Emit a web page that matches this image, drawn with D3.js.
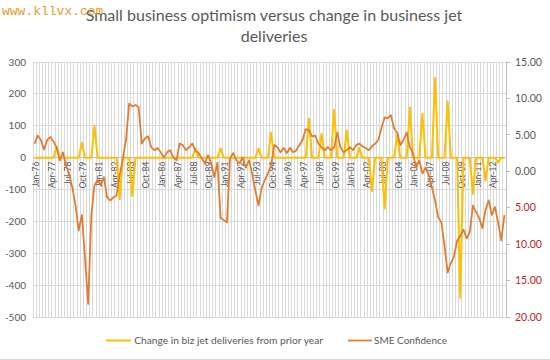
<!DOCTYPE html>
<html><head><meta charset="utf-8">
<script src="https://cdn.jsdelivr.net/npm/d3@7"></script>
<style>body{margin:0;background:#fff}svg{display:block}</style>
</head><body>
<svg id="chart" width="550" height="360"></svg>
<script>
// ---- DATA ----
const titleLines = ["Small business optimism versus change in business jet", "deliveries"];
const seriesNames = ["Change in biz jet deliveries from prior year", "SME Confidence"];
const firstQuarter = new Date(1976, 0, 1);
const quarterCount = 150;
const leftTicks = [300, 200, 100, 0, -100, -200, -300, -400, -500];
const rightTicks = [15, 10, 5, 0, -5, -10, -15, -20];
// change in biz jet deliveries from prior year (left axis), one value per quarter
const jetChange = [
  0,0,0,0,0,0,0,35,0,0,
  0,0,0,0,0,47,0,0,0,100,
  0,0,0,0,0,0,0,-130,0,0,
  0,-120,0,0,0,0,0,0,0,0,
  0,0,0,0,0,0,0,0,0,0,
  0,28,0,0,0,0,0,0,0,28,
  0,0,0,0,0,0,0,0,0,0,
  0,28,0,0,0,78,0,0,0,0,
  0,0,0,0,0,0,0,122,0,0,
  0,75,0,0,0,150,0,0,0,85,
  0,0,0,30,0,0,0,-105,0,0,
  0,-160,0,0,0,72,0,0,0,157,
  0,0,0,138,0,0,0,250,0,0,
  0,176,0,0,0,-440,0,0,0,-113,
  0,0,0,-72,0,0,0,-15,0,0
];
// SME confidence (right axis)
const smeConfidence = [
  3.8,4.9,4.3,3.0,4.3,4.7,4.1,3.2,1.5,2.6,
  0.8,-0.5,-2.3,-4.7,-8.1,-6.0,-11.9,-18.2,-6.0,-1.9,
  -1.2,-1.9,-0.8,-3.6,-4.0,-3.6,-3.3,-0.5,1.8,4.3,
  9.3,8.9,9.1,8.8,3.8,4.5,4.8,3.3,2.9,3.2,
  2.6,1.9,2.6,2.9,1.9,1.5,3.8,3.6,2.9,3.3,
  3.8,2.9,2.5,1.8,1.1,2.2,1.1,-0.8,1.2,-6.4,
  -6.7,-7.0,1.8,2.5,1.5,1.1,1.9,0.5,1.5,-0.3,
  -2.6,-4.7,-2.3,-1.2,-0.3,0.8,3.6,3.3,2.6,3.2,
  2.5,3.2,2.6,2.9,3.6,4.3,5.8,5.6,4.8,4.9,
  3.8,3.3,2.9,3.3,2.9,3.3,5.3,3.3,2.6,2.9,
  3.3,2.9,3.6,3.8,3.4,3.2,2.9,3.4,3.8,4.3,
  5.9,7.4,7.3,7.7,5.9,5.3,3.6,4.3,5.3,3.3,
  2.5,0.5,1.5,-0.3,0.5,-0.5,-2.2,-4.0,-6.3,-7.0,
  -10.2,-13.9,-12.6,-11.7,-9.5,-8.9,-8.0,-9.2,-8.4,-4.7,
  -5.6,-6.4,-7.8,-5.3,-4.0,-6.0,-4.9,-7.0,-9.5,-6.0
];
const labelEvery = 5;

// ---- CHART ----
const svg = d3.select("#chart");
const FONT = "Lato, 'Open Sans', sans-serif";
const TXT = "#595959";
const GRID = "#d9d9d9";
const plot = {left: 33, right: 506, top: 62, bottom: 317};

const fmt = d3.timeFormat("%b-%y");
const categories = d3.range(quarterCount).map(i => fmt(d3.timeMonth.offset(firstQuarter, 3 * i)));

const x = d3.scaleBand().domain(d3.range(quarterCount)).range([plot.left, plot.right]).padding(0);
const xc = i => x(i) + x.bandwidth() / 2;
const yL = d3.scaleLinear().domain([-500, 300]).range([plot.bottom, plot.top]);
const yR = d3.scaleLinear().domain([-20, 15]).range([plot.bottom, plot.top]);

svg.append("rect").attr("width", 550).attr("height", 360).attr("fill", "#fff");

// vertical gridlines at category boundaries
const vg = svg.append("g");
d3.range(quarterCount + 1).forEach(k => {
  const xx = k < quarterCount ? x(k) : plot.right;
  vg.append("line").attr("x1", xx).attr("x2", xx).attr("y1", plot.top).attr("y2", plot.bottom)
    .attr("stroke", GRID).attr("stroke-width", 1).attr("shape-rendering", "crispEdges");
});
// horizontal gridlines
svg.append("g").selectAll("line").data(leftTicks).join("line")
  .attr("x1", plot.left).attr("x2", plot.right)
  .attr("y1", d => yL(d)).attr("y2", d => yL(d))
  .attr("stroke", GRID).attr("stroke-width", 1).attr("shape-rendering", "crispEdges");

// left axis labels
svg.append("g").selectAll("text").data(leftTicks).join("text")
  .attr("x", 26).attr("y", d => yL(d)).attr("dy", "0.35em")
  .attr("text-anchor", "end").attr("font-family", FONT).attr("font-size", 10).attr("fill", TXT)
  .text(d => d);

// right axis
const ra = svg.append("g");
ra.append("line").attr("x1", plot.right).attr("x2", plot.right).attr("y1", plot.top).attr("y2", plot.bottom)
  .attr("stroke", "#bfbfbf").attr("shape-rendering", "crispEdges");
ra.selectAll("line.t").data(rightTicks).join("line").attr("class", "t")
  .attr("x1", plot.right).attr("x2", plot.right + 4).attr("y1", d => yR(d)).attr("y2", d => yR(d))
  .attr("stroke", "#bfbfbf").attr("shape-rendering", "crispEdges");
ra.selectAll("text").data(rightTicks).join("text")
  .attr("x", 515).attr("y", d => yR(d)).attr("dy", "0.35em")
  .attr("font-family", FONT).attr("font-size", 10.5)
  .attr("fill", d => d < 0 ? "#b3262b" : TXT)
  .text(d => Math.abs(d).toFixed(2));

// category axis line at zero
svg.append("line").attr("x1", plot.left).attr("x2", plot.right).attr("y1", yL(0)).attr("y2", yL(0))
  .attr("stroke", "#bfbfbf").attr("shape-rendering", "crispEdges");

// category labels
svg.append("g").selectAll("text")
  .data(d3.range(quarterCount).filter(i => i % labelEvery === 0)).join("text")
  .attr("transform", i => `translate(${xc(i) + 1.5},${yL(0) + 4}) rotate(-90)`)
  .attr("dy", "0.35em").attr("text-anchor", "end")
  .attr("font-family", FONT).attr("font-size", 8.5).attr("fill", TXT)
  .text(i => categories[i]);

// lines
const jetLine = d3.line().x((d, i) => xc(i)).y(d => yL(d));
const smeLine = d3.line().x((d, i) => xc(i)).y(d => yR(d));
svg.append("path").datum(jetChange).attr("d", jetLine)
  .attr("fill", "none").attr("stroke", "#ffc000").attr("stroke-width", 2).attr("stroke-linejoin", "round");
svg.append("path").datum(smeConfidence).attr("d", smeLine)
  .attr("fill", "none").attr("stroke", "#e07b30").attr("stroke-width", 1.75).attr("stroke-linejoin", "round");

// title
const title = svg.append("g").attr("font-family", FONT).attr("fill", TXT);
const t1 = title.append("text").attr("x", 274).attr("y", 21).attr("text-anchor", "middle")
  .attr("font-size", 17).text(titleLines[0]);
const w1 = t1.node().getComputedTextLength();
const fs = 17 * 377 / w1;
t1.attr("font-size", fs);
title.append("text").attr("x", 274).attr("y", 42).attr("text-anchor", "middle")
  .attr("font-size", fs).text(titleLines[1]);

// legend
const lg = svg.append("g").attr("font-family", FONT).attr("fill", TXT);
const lt1 = lg.append("text").attr("x", 323).attr("y", 344).attr("text-anchor", "end")
  .attr("font-size", 11).text(seriesNames[0]);
lt1.attr("font-size", 11 * 189 / lt1.node().getComputedTextLength());
const s1 = 323 - 189;
lg.append("line").attr("x1", s1 - 28).attr("x2", s1 - 3).attr("y1", 340.5).attr("y2", 340.5)
  .attr("stroke", "#ffc000").attr("stroke-width", 2);
lg.append("line").attr("x1", 348).attr("x2", 372).attr("y1", 340.5).attr("y2", 340.5)
  .attr("stroke", "#e07b30").attr("stroke-width", 1.75);
const lt2 = lg.append("text").attr("x", 374).attr("y", 344).attr("font-size", 11).text(seriesNames[1]);
lt2.attr("font-size", 11 * 73 / lt2.node().getComputedTextLength());

// chart border (bottom edge visible)
svg.append("line").attr("x1", 0).attr("x2", 550).attr("y1", 359).attr("y2", 359)
  .attr("stroke", "#d9d9d9").attr("shape-rendering", "crispEdges");

// watermark
svg.append("text").attr("x", 2).attr("y", 15).attr("font-family", "'Liberation Mono', monospace")
  .attr("font-size", 13).attr("fill", "#e49b2e").text("www.kllvx.com");
</script>
</body></html>
